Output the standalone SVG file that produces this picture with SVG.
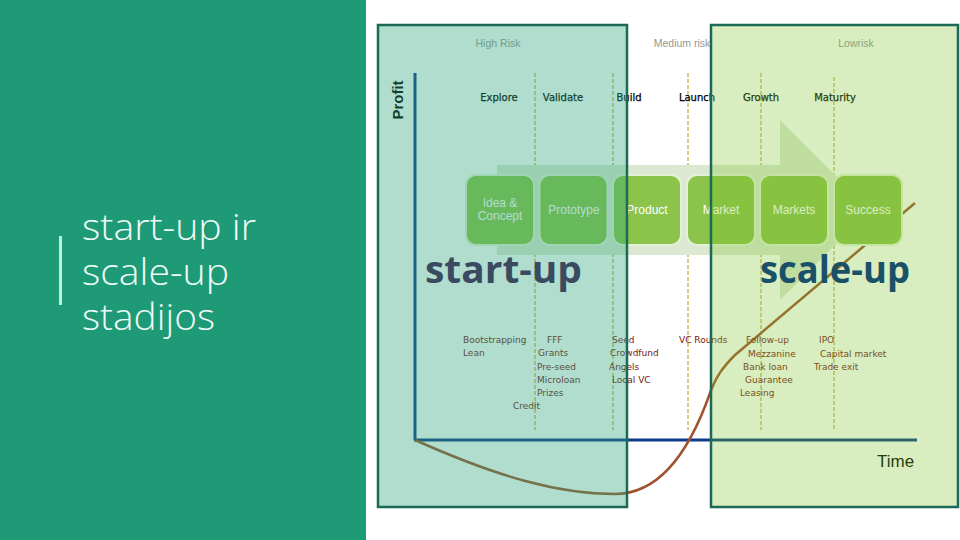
<svg xmlns="http://www.w3.org/2000/svg" width="960" height="540" viewBox="0 0 960 540">
<defs>
<style>
.title{font-family:"Open Sans","Lato",sans-serif;font-weight:300;font-size:37px;fill:#eefaf5}
.risk{font-family:"Liberation Sans",Arial,sans-serif;font-size:10.5px;fill:#969696;text-anchor:middle}
.stage{font-family:"DejaVu Sans",Verdana,sans-serif;font-size:10px;fill:#000;text-anchor:middle;stroke:#000;stroke-width:0.25}
.box{fill:#8cc34a;stroke:#e2f2d4;stroke-width:2}
.btxt{font-family:"Liberation Sans",Arial,sans-serif;font-size:12px;fill:#ffffff;text-anchor:middle}
.fund{font-family:"DejaVu Sans",Verdana,sans-serif;font-size:9px;fill:#7a1414}
.dash{stroke:#d8cc88;stroke-width:2;stroke-dasharray:4 2;fill:none}
.big{font-family:"Open Sans","Liberation Sans",sans-serif;font-weight:700;font-size:38px}
</style>
</defs>
<rect x="0" y="0" width="960" height="540" fill="#ffffff"/>
<g id="side-panel">
<rect x="0" y="0" width="366" height="540" fill="#1f9a77"/>
<rect x="59" y="236" width="3" height="69" fill="#b8f0df"/>
<text class="title" x="82" y="240" textLength="174" lengthAdjust="spacingAndGlyphs">start-up ir</text>
<text class="title" x="82" y="285" textLength="147" lengthAdjust="spacingAndGlyphs">scale-up</text>
<text class="title" x="82" y="330" textLength="133" lengthAdjust="spacingAndGlyphs">stadijos</text>
</g>
<g id="connectors">
<line class="dash" x1="535" y1="73" x2="535" y2="430"/>
<line class="dash" x1="613" y1="73" x2="613" y2="430"/>
<line class="dash" x1="688" y1="73" x2="688" y2="430"/>
<line class="dash" x1="761" y1="73" x2="761" y2="430"/>
<line class="dash" x1="834" y1="77" x2="834" y2="430"/>
<polygon id="big-arrow" points="497,165 780,165 780,120 870,210 780,300 780,255 497,255" fill="#dde8d2"/>
<line x1="415" y1="73" x2="415" y2="440" stroke="#103a8a" stroke-width="3"/>
<line x1="414" y1="440" x2="917" y2="440" stroke="#103a8a" stroke-width="3"/>
<path d="M415,440 C500,478 560,494 615,494 C660,494 690,450 710,393 C716,377 722,368 735,355 L915,203" fill="none" stroke="#a0522d" stroke-width="2.5"/>
</g>
<g id="box-idea"><rect class="box" x="466" y="175" width="68" height="70" rx="10"/><text class="btxt" x="500" y="207">Idea &amp;</text><text class="btxt" x="500" y="220">Concept</text></g>
<g id="box-prototype"><rect class="box" x="539.5" y="175" width="68" height="70" rx="10"/><text class="btxt" x="574" y="214">Prototype</text></g>
<g id="box-product"><rect class="box" x="613" y="175" width="68" height="70" rx="10"/><text class="btxt" x="647" y="214">Product</text></g>
<g id="box-market"><rect class="box" x="687" y="175" width="68" height="70" rx="10"/><text class="btxt" x="721" y="214">Market</text></g>
<g id="box-markets"><rect class="box" x="760" y="175" width="68" height="70" rx="10"/><text class="btxt" x="794" y="214">Markets</text></g>
<g id="box-success"><rect class="box" x="834" y="175" width="68" height="70" rx="10"/><text class="btxt" x="868" y="214">Success</text></g>
<g id="labels">
<text class="risk" x="498" y="47">High Risk</text>
<text class="risk" x="682" y="47">Medium risk</text>
<text class="risk" x="856" y="47">Lowrisk</text>
<text class="stage" x="499" y="101">Explore</text>
<text class="stage" x="563" y="101">Validate</text>
<text class="stage" x="629" y="101">Build</text>
<text class="stage" x="697" y="101">Launch</text>
<text class="stage" x="761" y="101">Growth</text>
<text class="stage" x="835" y="101">Maturity</text>
<text font-family="Liberation Sans,Arial,sans-serif" font-weight="700" font-size="15" fill="#000" text-anchor="middle" transform="translate(403,100) rotate(-90)">Profit</text>
<text font-family="Liberation Sans,Arial,sans-serif" font-size="17" fill="#000" x="877" y="467">Time</text>
</g>
<g id="funding">
<text class="fund" x="463" y="343">Bootstrapping</text>
<text class="fund" x="463" y="356">Lean</text>
<text class="fund" x="547" y="343">FFF</text>
<text class="fund" x="538" y="356">Grants</text>
<text class="fund" x="537" y="370">Pre-seed</text>
<text class="fund" x="537" y="383">Microloan</text>
<text class="fund" x="537" y="396">Prizes</text>
<text class="fund" x="513" y="409">Credit</text>
<text class="fund" x="612" y="343">Seed</text>
<text class="fund" x="610" y="356">Crowdfund</text>
<text class="fund" x="609" y="370">Angels</text>
<text class="fund" x="612" y="383">Local VC</text>
<text class="fund" x="679" y="343">VC Rounds</text>
<text class="fund" x="746" y="343">Follow-up</text>
<text class="fund" x="748" y="357">Mezzanine</text>
<text class="fund" x="743" y="370">Bank loan</text>
<text class="fund" x="745" y="383">Guarantee</text>
<text class="fund" x="740" y="396">Leasing</text>
<text class="fund" x="819" y="343">IPO</text>
<text class="fund" x="820" y="357">Capital market</text>
<text class="fund" x="814" y="370">Trade exit</text>
</g>
<g id="high-risk-zone">
<rect x="378" y="25" width="249" height="482" fill="#2fa67c" fill-opacity="0.38"/>
<rect x="378" y="25" width="249" height="482" fill="none" stroke="#1a6a55" stroke-width="2.5"/>
</g>
<g id="low-risk-zone">
<rect x="711" y="25" width="247" height="482" fill="#7dc32d" fill-opacity="0.3"/>
<rect x="711" y="25" width="247" height="482" fill="none" stroke="#1a6a55" stroke-width="2.5"/>
</g>
<g id="phase-labels">
<text class="big" x="425" y="283" fill="#3a4a60" textLength="157" lengthAdjust="spacingAndGlyphs">start-up</text>
<text class="big" x="760" y="283" fill="#1a5068" textLength="150" lengthAdjust="spacingAndGlyphs">scale-up</text>
</g>
</svg>
